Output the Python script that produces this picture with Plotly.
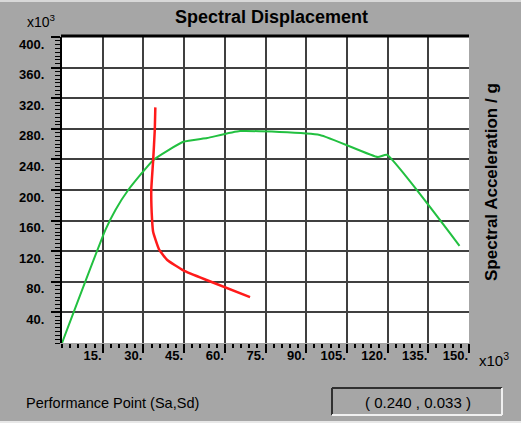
import plotly.graph_objects as go

W, H = 521, 423

# ---- data (x10^3 units) ----
capacity_sd = [0, 16, 19.7, 24.4, 33.6, 44.7, 53.5, 65.6, 95, 116.4, 119.7, 146.5]
capacity_sa = [0, 148, 174, 200, 239, 263, 268, 277, 272, 243, 246, 127]

demand_sd = [34.4, 34.2, 33.6, 32.9, 33.2, 33.6, 35.8, 38.8, 44.7, 53.5, 69.3]
demand_sa = [308, 279, 239, 200, 161, 145, 122, 108.5, 95, 82, 60]

x_ticks = [15, 30, 45, 60, 75, 90, 105, 120, 135, 150]
x_ticktext = [f"{v}." for v in x_ticks]
y_ticks = [40, 80, 120, 160, 200, 240, 280, 320, 360, 400]
y_ticktext = [f"{v}." for v in y_ticks]

perf_point = "( 0.240 , 0.033 )"

BG = "#a6a6a6"
GRID = "#404040"
FONT = "Liberation Sans, Arial, sans-serif"

def px(x):
    return x / W

def py(y):
    return 1 - y / H

fig = go.Figure()
fig.add_trace(go.Scatter(x=capacity_sd, y=capacity_sa, mode="lines",
                         line=dict(color="#22c040", width=2, shape="spline", smoothing=0.4),
                         showlegend=False))
fig.add_trace(go.Scatter(x=demand_sd, y=demand_sa, mode="lines",
                         line=dict(color="#ff1a1a", width=2.5, shape="spline", smoothing=0.4),
                         showlegend=False))

fig.update_layout(
    width=W, height=H, autosize=False,
    margin=dict(l=0, r=0, t=0, b=0, pad=0, autoexpand=False),
    paper_bgcolor=BG, plot_bgcolor="white",
    font=dict(family=FONT, color="black", size=12),
    xaxis=dict(
        domain=[px(62), px(469)], range=[0, 150], automargin=False,
        tickvals=x_ticks, ticktext=x_ticktext,
        showgrid=True, gridcolor=GRID, gridwidth=2,
        ticks="outside", ticklen=9, tickwidth=2, tickcolor="black",
        ticklabelposition="outside left",
        tickfont=dict(size=13, family=FONT, weight="bold"),
        minor=dict(dtick=3, ticks="outside", ticklen=4, tickwidth=2,
                   tickcolor="black", showgrid=False),
        showline=False, zeroline=False,
    ),
    yaxis=dict(
        domain=[py(343), py(37)], range=[0, 400], automargin=False,
        tickvals=y_ticks, ticktext=y_ticktext,
        showgrid=True, gridcolor=GRID, gridwidth=2,
        ticks="outside", ticklen=9, tickwidth=2, tickcolor="black",
        ticklabelstandoff=4, ticklabelshift=7,
        tickfont=dict(size=13, family=FONT, weight="bold"),
        minor=dict(dtick=5, ticks="outside", ticklen=5, tickwidth=1,
                   tickcolor="black", showgrid=False),
        showline=True, linecolor="black", linewidth=2, zeroline=False,
    ),
)

shapes = [
    # top frame line
    dict(type="line", xref="paper", yref="paper", x0=px(61), x1=px(469),
         y0=py(36), y1=py(36), line=dict(color="black", width=3)),
    # light outer border
    dict(type="line", xref="paper", yref="paper", x0=0, x1=1, y0=py(1), y1=py(1),
         line=dict(color="#d8d8d8", width=2)),
    dict(type="line", xref="paper", yref="paper", x0=0, x1=1, y0=py(422), y1=py(422),
         line=dict(color="#e8e8e8", width=2)),
    # performance point box (inset)
    dict(type="rect", xref="paper", yref="paper", x0=px(332), x1=px(502),
         y0=py(415), y1=py(388), fillcolor=BG, line=dict(width=0)),
    dict(type="line", xref="paper", yref="paper", x0=px(332), x1=px(502),
         y0=py(388), y1=py(388), line=dict(color="#303030", width=2)),
    dict(type="line", xref="paper", yref="paper", x0=px(332), x1=px(332),
         y0=py(388), y1=py(415), line=dict(color="#303030", width=2)),
    dict(type="line", xref="paper", yref="paper", x0=px(332), x1=px(502),
         y0=py(415), y1=py(415), line=dict(color="#f0f0f0", width=2)),
    dict(type="line", xref="paper", yref="paper", x0=px(502), x1=px(502),
         y0=py(388), y1=py(415), line=dict(color="#f0f0f0", width=2)),
]
fig.update_layout(shapes=shapes)

annotations = [
    dict(text="<b>Spectral Displacement</b>", x=px(271), y=py(17),
         font=dict(size=18, family=FONT)),
    dict(text="<b>Spectral Acceleration / g</b>", x=px(492), y=py(182),
         textangle=-90, font=dict(size=17, family=FONT)),
    dict(text="x10<sup>3</sup>", x=px(41), y=py(32), yanchor="bottom",
         font=dict(size=14, family=FONT)),
    dict(text="x10<sup>3</sup>", x=px(494), y=py(359), font=dict(size=15, family=FONT)),
    dict(text="Performance Point (Sa,Sd)", x=px(24), y=py(403), xanchor="left",
         font=dict(size=14.5, family=FONT)),
    dict(text=perf_point, x=px(418), y=py(402), font=dict(size=15, family=FONT)),
]
for a in annotations:
    a.setdefault("xref", "paper")
    a.setdefault("yref", "paper")
    a.setdefault("showarrow", False)
    a.setdefault("xanchor", "center")
    a.setdefault("yanchor", "middle")
fig.update_layout(annotations=annotations)

fig.write_html("out.html")
